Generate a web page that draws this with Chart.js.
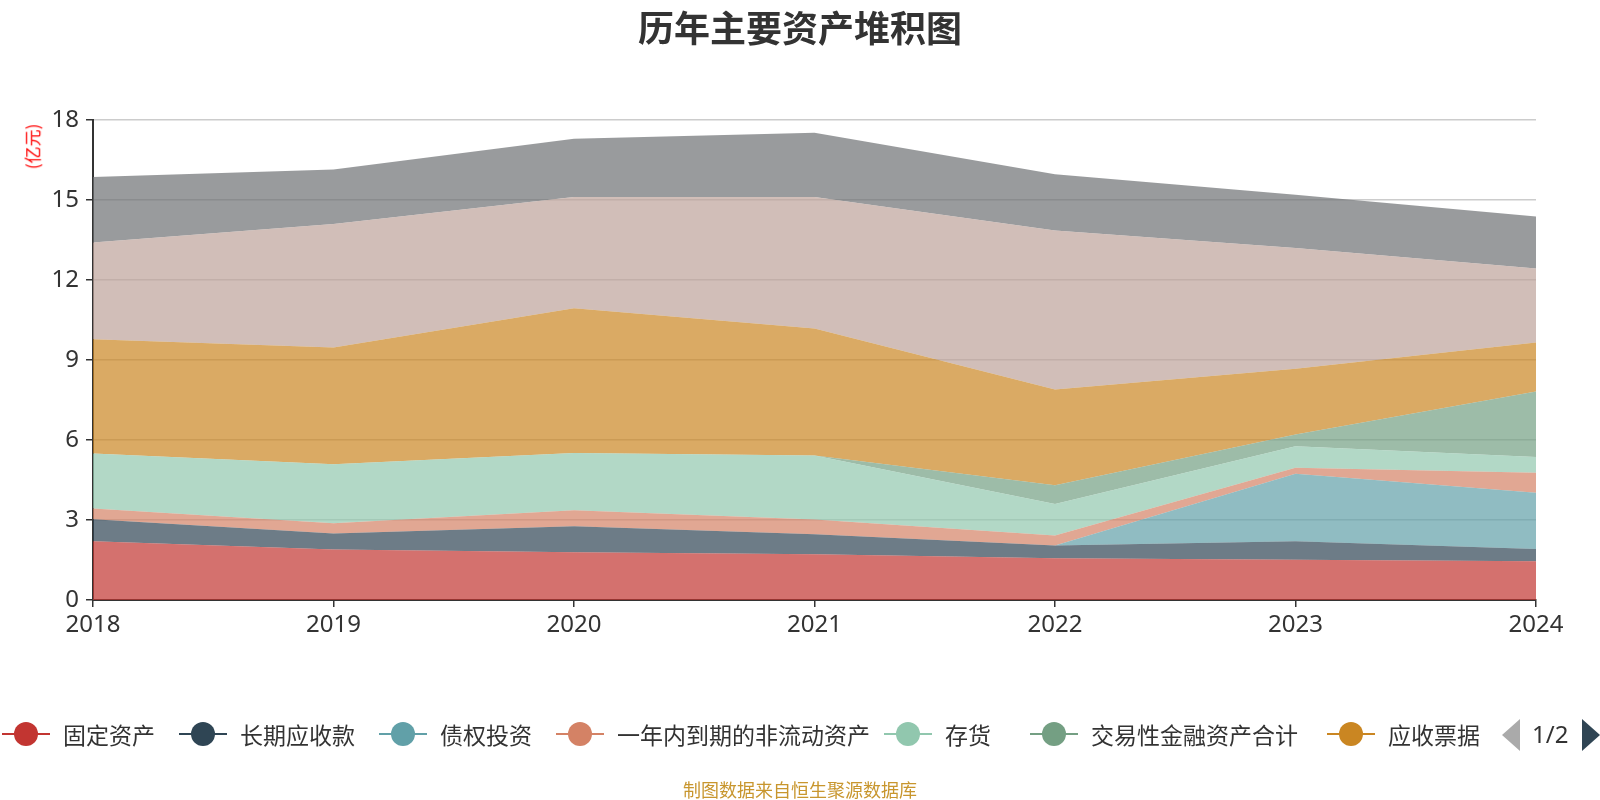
<!DOCTYPE html>
<html>
<head>
<meta charset="utf-8">
<script src="https://cdn.jsdelivr.net/npm/chart.js@4.4.1/dist/chart.umd.min.js"></script>
<style>
  body { margin: 0; background: #fff; font-family: "Noto Sans", "Noto Sans CJK SC", sans-serif; }
  #wrap { position: relative; width: 1600px; height: 800px; overflow: hidden; }
  #chart { position: absolute; left: 0; top: 0; }
  .title { position: absolute; left: 0; width: 1600px; top: 0px; text-align: center;
           font-size: 36px; font-weight: bold; color: #333; font-family: "Noto Sans CJK SC", sans-serif; }
  .unit { position: absolute; left: 9px; top: 134px; color: #ff0000; font-size: 17px;
          transform: rotate(-90deg); transform-origin: center; font-family: "Noto Sans CJK SC", sans-serif; }
  .foot { position: absolute; left: 0; width: 1600px; top: 776px; text-align: center;
          font-size: 18px; color: #c8962e; font-family: "Noto Sans CJK SC", sans-serif; }
  .item { position: absolute; top: 719px; height: 30px; display: flex; align-items: center;
          font-size: 23px; color: #333; white-space: nowrap; font-family: "Noto Sans CJK SC", sans-serif; }
  .sym { position: relative; width: 48px; height: 30px; margin-right: 13px; }
  .sym .ln { position: absolute; left: 0; right: 0; top: 14px; height: 2px; }
  .sym .dot { position: absolute; left: 12px; top: 3px; width: 24px; height: 24px; border-radius: 50%; }
  .pager { position: absolute; top: 718px; height: 32px; }
</style>
</head>
<body>
<div id="wrap">
  <canvas id="chart" width="1600" height="800"></canvas>
  <div class="title">历年主要资产堆积图</div>
  <div class="unit">(亿元)</div>
  <div id="legend"></div>
  <div class="foot">制图数据来自恒生聚源数据库</div>
</div>
<script>
/* data, values in 亿元 */
var years = ['2018', '2019', '2020', '2021', '2022', '2023', '2024'];
var seriesNames = ['固定资产', '长期应收款', '债权投资', '一年内到期的非流动资产', '存货',
                   '交易性金融资产合计', '应收票据', '应收账款', '货币资金'];
var fixedAssets   = [2.20, 1.89, 1.79, 1.72, 1.57, 1.51, 1.45];
var longRecv      = [0.83, 0.60, 0.98, 0.75, 0.47, 0.69, 0.46];
var debtInvest    = [0, 0, 0, 0, 0, 2.53, 2.11];
var dueInYear     = [0.40, 0.39, 0.60, 0.55, 0.38, 0.23, 0.75];
var inventory     = [2.06, 2.21, 2.14, 2.40, 1.18, 0.81, 0.59];
var tradingAssets = [0, 0, 0, 0, 0.70, 0.44, 2.46];
var notesRecv     = [4.29, 4.38, 5.43, 4.76, 3.59, 2.46, 1.84];
var accountsRecv  = [3.63, 4.63, 4.17, 4.93, 5.97, 4.53, 2.77];
var cash          = [2.45, 2.04, 2.19, 2.41, 2.11, 2.00, 1.95];
var yTicks = [0, 3, 6, 9, 12, 15, 18];

var allSeries = [fixedAssets, longRecv, debtInvest, dueInYear, inventory,
                 tradingAssets, notesRecv, accountsRecv, cash];
var colors = ['#c23531', '#2f4554', '#61a0a8', '#d48265', '#91c7ae',
              '#749f83', '#ca8622', '#bda29a', '#6e7074'];

function fade(hex, a) {
    var n = parseInt(hex.slice(1), 16);
    return 'rgba(' + (n >> 16) + ',' + ((n >> 8) & 255) + ',' + (n & 255) + ',' + a + ')';
}

var datasets = allSeries.map(function (vals, i) {
    return {
        label: seriesNames[i],
        data: vals,
        backgroundColor: fade(colors[i], 0.7),
        borderColor: fade(colors[i], 0.7),
        borderWidth: 0,
        pointRadius: 0,
        pointHoverRadius: 0,
        tension: 0,
        fill: i === 0 ? 'origin' : '-1'
    };
});

const ctx = document.getElementById('chart').getContext('2d');
const assetChart = new Chart(ctx, {
    type: 'line',
    data: { labels: years, datasets: datasets },
    options: {
        responsive: false,
        animation: false,
        devicePixelRatio: 1,
        layout: { padding: { left: 13, top: 120, right: 64, bottom: 160 } },
        plugins: {
            legend: { display: false },
            title: { display: false },
            tooltip: { enabled: false }
        },
        scales: {
            x: {
                offset: false,
                grid: { drawOnChartArea: false, drawTicks: true, tickLength: 7, color: '#333', lineWidth: 1.5 },
                border: { color: '#333', width: 2 },
                ticks: { color: '#333', padding: 4, maxRotation: 0,
                         font: { size: 24, family: '"Noto Sans", sans-serif' } },
                afterFit: function (s) { s.height = 40; }
            },
            y: {
                stacked: true,
                min: 0,
                max: 18,
                afterBuildTicks: function (s) { s.ticks = yTicks.map(function (v) { return { value: v }; }); },
                grid: { color: '#cccccc', lineWidth: 1.5, tickLength: 7, tickColor: '#333' },
                border: { color: '#333', width: 2 },
                ticks: { color: '#333', padding: 7,
                         font: { size: 24, family: '"Noto Sans", sans-serif' } },
                afterFit: function (s) { s.width = 80; }
            }
        }
    }
});

/* legend, first page only (7 of 9 items) */
var legendLeft = [2, 179, 379, 556, 884, 1030, 1327];
var legend = document.getElementById('legend');
for (var i = 0; i < 7; i++) {
    var item = document.createElement('div');
    item.className = 'item';
    item.style.left = legendLeft[i] + 'px';
    item.innerHTML = '<span class="sym"><span class="ln" style="background:' + colors[i] + '"></span>' +
        '<span class="dot" style="background:' + colors[i] + '"></span></span><span>' + seriesNames[i] + '</span>';
    legend.appendChild(item);
}
var pager = document.createElement('div');
pager.className = 'pager';
pager.style.left = '1500px';
pager.innerHTML =
    '<svg width="100" height="34" style="position:absolute;left:0;top:0">' +
    '<polygon points="20,1 20,33 2,17" fill="#aaaaaa"/>' +
    '<polygon points="82,1 82,33 100,17" fill="#2f4554"/></svg>' +
    '<span style="position:absolute;left:32px;top:-1px;font-size:24px;color:#333;font-family:\'Noto Sans\',sans-serif">1/2</span>';
legend.appendChild(pager);
</script>
</body>
</html>
